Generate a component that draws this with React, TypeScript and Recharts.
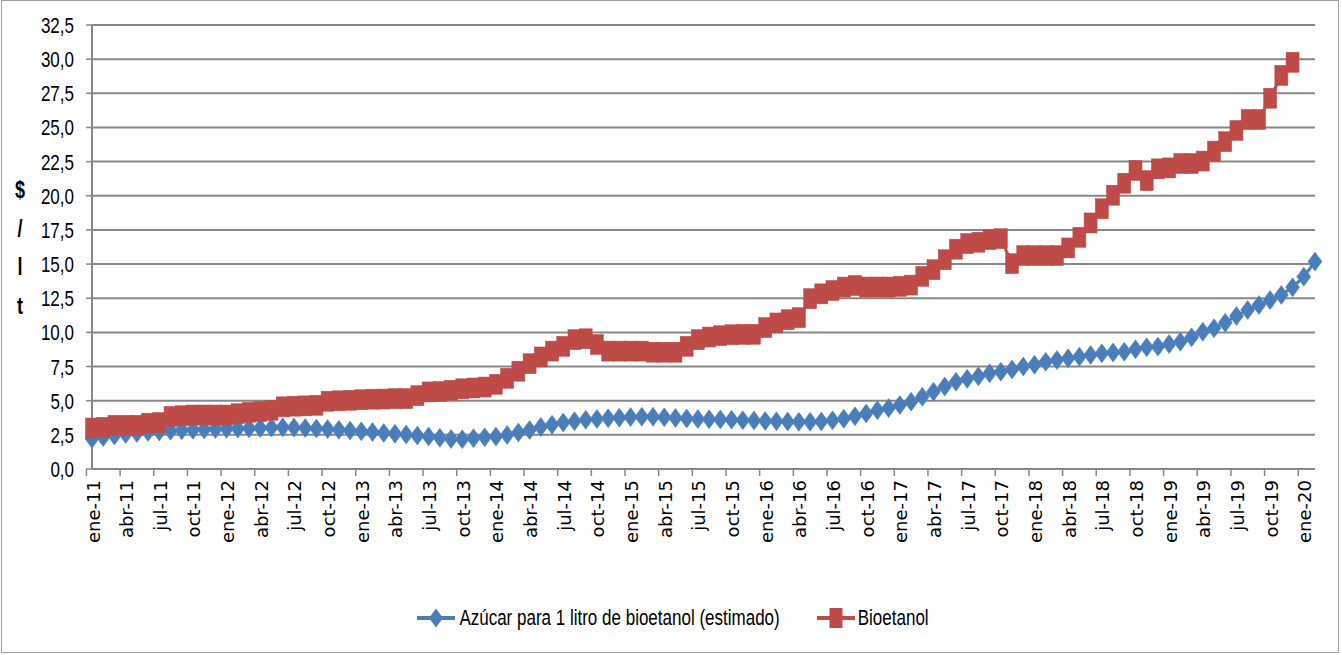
import { LineChart, Line, XAxis, YAxis, CartesianGrid, Legend } from 'recharts';

// Categorías mensuales: ene-11 ... feb-20
const meses = ['ene', 'feb', 'mar', 'abr', 'may', 'jun', 'jul', 'ago', 'sep', 'oct', 'nov', 'dic'];
const anios = ['11', '12', '13', '14', '15', '16', '17', '18', '19'];
const periodos = anios.flatMap((a) => meses.map((m) => `${m}-${a}`)).concat(['ene-20', 'feb-20']);

// $/lt - Azúcar para 1 litro de bioetanol (estimado)
const azucar = [
  2.22, 2.34, 2.46, 2.56, 2.64, 2.7, 2.75, 2.8, 2.84, 2.87, 2.9, 2.92,
  2.94, 2.96, 2.98, 3.0, 3.03, 3.05, 3.04, 3.0, 2.96, 2.92, 2.87, 2.82,
  2.76, 2.7, 2.64, 2.58, 2.52, 2.45, 2.38, 2.28, 2.2, 2.18, 2.25, 2.32,
  2.37, 2.49, 2.68, 2.85, 3.08, 3.24, 3.4, 3.5, 3.6, 3.66, 3.72, 3.76,
  3.8, 3.82, 3.82, 3.78, 3.74, 3.7, 3.66, 3.64, 3.62, 3.6, 3.57, 3.55,
  3.52, 3.5, 3.47, 3.45, 3.45, 3.48, 3.56, 3.68, 3.86, 4.06, 4.3, 4.46,
  4.68, 4.93, 5.29, 5.66, 6.03, 6.39, 6.6, 6.78, 7.0, 7.12, 7.28, 7.5,
  7.64, 7.85, 7.98, 8.1, 8.22, 8.35, 8.47, 8.52, 8.59, 8.76, 8.91, 8.96,
  9.15, 9.32, 9.64, 10.05, 10.3, 10.71, 11.2, 11.64, 12.0, 12.37, 12.74, 13.3,
  14.08, 15.18,
];

// $/lt - Bioetanol (hasta dic-19)
const bioetanol = [
  3.0, 3.05, 3.2, 3.2, 3.2, 3.35, 3.4, 3.85, 3.9, 3.95, 3.95, 3.95,
  3.95, 4.05, 4.15, 4.2, 4.3, 4.55, 4.6, 4.62, 4.66, 4.96, 4.99, 5.03,
  5.07, 5.11, 5.12, 5.15, 5.15, 5.37, 5.64, 5.67, 5.76, 5.87, 5.93, 6.0,
  6.2, 6.64, 7.16, 7.71, 8.2, 8.63, 8.98, 9.47, 9.53, 9.11, 8.63, 8.63,
  8.63, 8.63, 8.55, 8.55, 8.55, 8.98, 9.47, 9.66, 9.76, 9.83, 9.86, 9.86,
  10.35, 10.69, 10.93, 11.08, 12.47, 12.82, 13.07, 13.32, 13.43, 13.32, 13.32, 13.32,
  13.37, 13.46, 14.1, 14.59, 15.32, 16.09, 16.5, 16.6, 16.79, 16.86, 15.03, 15.62,
  15.62, 15.62, 15.62, 16.18, 16.96, 18.01, 19.05, 20.04, 20.92, 21.86, 21.11, 21.97,
  22.04, 22.36, 22.36, 22.54, 23.27, 23.96, 24.78, 25.58, 25.58, 27.14, 28.81, 29.77,
];

const yTicks = [0, 2.5, 5, 7.5, 10, 12.5, 15, 17.5, 20, 22.5, 25, 27.5, 30, 32.5];

const data = periodos.map((p, i) => ({
  periodo: p,
  azucar: azucar[i],
  bioetanol: i < bioetanol.length ? bioetanol[i] : null,
}));

const AZUL = '#4A7EBB';
const ROJO = '#BE4B48';
const GRIS = '#888888';
const FUENTE = 'Liberation Sans';
const ESTIRA = 1.3; // texto alto y estrecho como en el original
const ANCHO = 1342;
const ALTO = 655;
const PLOT_W = 1223;
const BANDA = PLOT_W / periodos.length;

const Rombo = (props: any) => {
  const { cx, cy, index } = props;
  if (cx == null || cy == null) return <g key={`r-${index}`} />;
  return (
    <polygon
      key={`r-${index}`}
      points={`${cx},${cy - 9.5} ${cx + 7},${cy} ${cx},${cy + 9.5} ${cx - 7},${cy}`}
      fill={AZUL}
      stroke={AZUL}
      strokeWidth={0.5}
    />
  );
};

const Cuadro = (props: any) => {
  const { cx, cy, index } = props;
  if (cx == null || cy == null) return <g key={`c-${index}`} />;
  return <rect key={`c-${index}`} x={cx - 6.5} y={cy - 10} width={13} height={20} fill={ROJO} stroke={ROJO} strokeWidth={0.5} />;
};

const TickMes = (props: any) => {
  const { x, y, payload } = props;
  const tx = x - BANDA / 2;
  return (
    <g>
      <line x1={tx} y1={y} x2={tx} y2={y + 7} stroke={GRIS} strokeWidth={1.5} />
      <text
        transform={`translate(${x + 1},${y + 11}) rotate(-90)`}
        textAnchor="end"
        dominantBaseline="central"
        fontFamily="DejaVu Sans"
        fontSize={18}
        fill="#000"
      >
        {payload.value}
      </text>
    </g>
  );
};

const TickValor = (props: any) => {
  const { x, y, payload } = props;
  return (
    <g transform={`translate(${x},${y}) scale(1,${ESTIRA})`}>
      <text x={0} y={0} dy="0.36em" textAnchor="end" fontFamily={FUENTE} fontSize={17} fill="#000">
        {Number(payload.value).toFixed(1).replace('.', ',')}
      </text>
    </g>
  );
};

const TituloY = () => (
  <g transform={`translate(20,0) scale(1,${ESTIRA})`}>
    <text fontFamily={FUENTE} fontWeight="bold" fontSize={18} textAnchor="middle" fill="#000">
      <tspan x={0} y={198 / ESTIRA}>$</tspan>
      <tspan x={0} y={237 / ESTIRA}>/</tspan>
      <tspan x={0} y={275 / ESTIRA}>l</tspan>
      <tspan x={0} y={314 / ESTIRA}>t</tspan>
    </text>
  </g>
);

const textoLeyenda = { display: 'inline-block', transform: `scaleY(${ESTIRA})` } as const;

const Leyenda = () => (
  <div
    style={{
      display: 'flex',
      justifyContent: 'center',
      alignItems: 'center',
      height: 36,
      paddingLeft: 4,
      fontFamily: FUENTE,
      fontSize: 17,
      color: '#000',
    }}
  >
    <svg width={38} height={20}>
      <line x1={0} y1={10} x2={38} y2={10} stroke={AZUL} strokeWidth={4} />
      <polygon points="19,0.5 26,10 19,19.5 12,10" fill={AZUL} />
    </svg>
    <span style={{ ...textoLeyenda, marginLeft: 4 }}>Azúcar para 1 litro de bioetanol (estimado)</span>
    <svg width={38} height={20} style={{ marginLeft: 37 }}>
      <line x1={0} y1={10} x2={38} y2={10} stroke={ROJO} strokeWidth={4} />
      <rect x={12.5} y={0} width={13} height={20} fill={ROJO} />
    </svg>
    <span style={{ ...textoLeyenda, marginLeft: 3 }}>Bioetanol</span>
  </div>
);

export default function App() {
  return (
    <div style={{ position: 'absolute', left: 0, top: 0, width: ANCHO, height: ALTO, background: '#fff' }}>
      <div
        style={{
          position: 'absolute',
          left: 1,
          top: 0,
          width: 1338,
          height: 653,
          border: '1px solid #A0A0A0',
          boxSizing: 'border-box',
        }}
      />
      <LineChart width={ANCHO} height={ALTO} data={data} margin={{ top: 25, right: ANCHO - 92 - PLOT_W, bottom: 0, left: 0 }}>
        <CartesianGrid vertical={false} stroke={GRIS} strokeWidth={2} />
        <XAxis
          dataKey="periodo"
          interval={2}
          height={150}
          tick={<TickMes />}
          tickLine={false}
          tickSize={0}
          tickMargin={0}
          axisLine={{ stroke: GRIS, strokeWidth: 2 }}
        />
        <YAxis
          width={92}
          domain={[0, 32.5]}
          ticks={yTicks}
          interval={0}
          tick={<TickValor />}
          tickSize={6}
          tickMargin={12}
          tickLine={{ stroke: GRIS, strokeWidth: 1.5 }}
          axisLine={{ stroke: GRIS, strokeWidth: 2 }}
          label={{ content: () => <TituloY /> }}
        />
        <Legend
          verticalAlign="bottom"
          content={() => <Leyenda />}
          wrapperStyle={{ position: 'absolute', left: 0, top: 600, width: ANCHO, height: 36 }}
        />
        <Line
          type="linear"
          dataKey="azucar"
          name="Azúcar para 1 litro de bioetanol (estimado)"
          stroke={AZUL}
          strokeWidth={3}
          dot={Rombo}
          activeDot={false}
          isAnimationActive={false}
        />
        <Line
          type="linear"
          dataKey="bioetanol"
          name="Bioetanol"
          stroke={ROJO}
          strokeWidth={3}
          dot={Cuadro}
          activeDot={false}
          isAnimationActive={false}
        />
      </LineChart>
    </div>
  );
}
